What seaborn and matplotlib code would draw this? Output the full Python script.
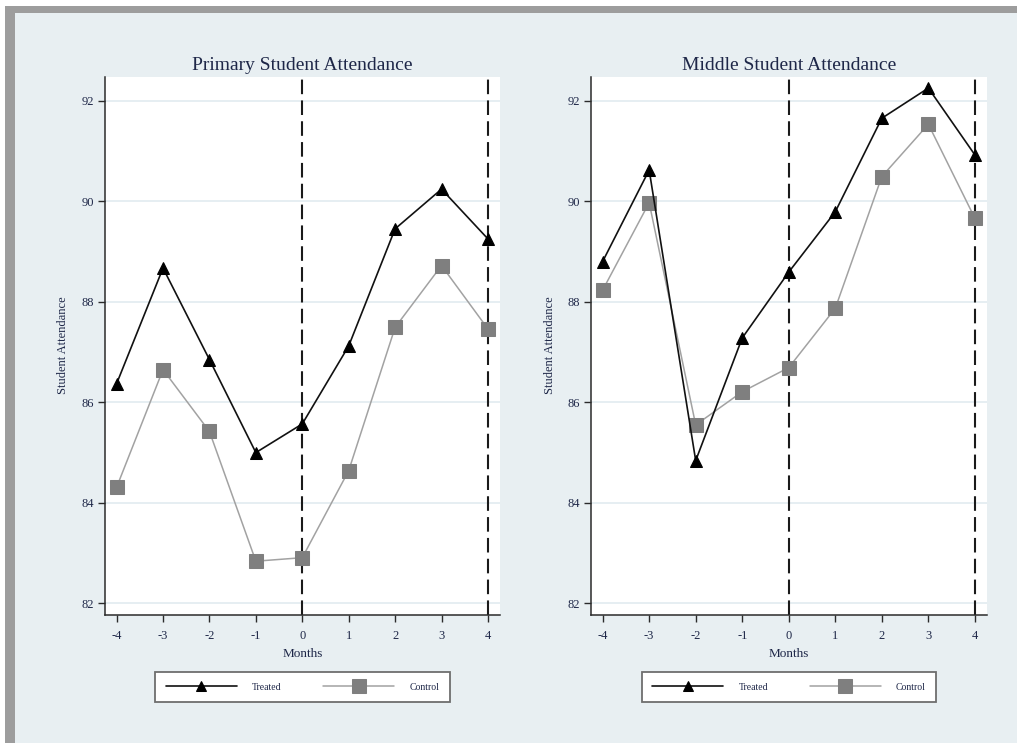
import numpy as np
import pandas as pd
import matplotlib
matplotlib.use("Agg")
import matplotlib.pyplot as plt
from matplotlib.patches import Rectangle
import seaborn as sns

# ---- data -------------------------------------------------------------
months = [-4, -3, -2, -1, 0, 1, 2, 3, 4]

primary_treated = [86.37, 88.67, 86.85, 85.00, 85.57, 87.12, 89.45, 90.24, 89.25]
primary_control = [84.31, 86.65, 85.42, 82.84, 82.91, 84.64, 87.49, 88.72, 87.46]

middle_treated = [88.80, 90.62, 84.84, 87.28, 88.59, 89.79, 91.65, 92.25, 90.92]
middle_control = [88.23, 89.97, 85.55, 86.21, 86.69, 87.87, 90.49, 91.53, 89.66]

panel_titles = ["Primary Student Attendance", "Middle Student Attendance"]
series_labels = ["Treated", "Control"]
y_ticks = [82, 84, 86, 88, 90, 92]
event_lines = [0, 4]

# ---- style ------------------------------------------------------------
sns.set_style("white")
plt.rcParams["font.family"] = ["Liberation Serif", "DejaVu Serif"]

BG = "#e8eff2"
TXT = "#1e2748"
AX = "#2b2b2b"

W, H = 1017, 743
fig = plt.figure(figsize=(W / 100, H / 100), dpi=100)
fig.patch.set_facecolor("white")


def px_rect(x0, y0, x1, y1):
    return (x0 / W, 1 - y1 / H, (x1 - x0) / W, (y1 - y0) / H)


# window frame around the graph
for (x0, y0, x1, y1), c in [((5, 6, W, H), "#9d9d9d"),
                            ((15, 13, W, H), BG)]:
    l, b, w, h = px_rect(x0, y0, x1, y1)
    fig.patches.append(Rectangle((l, b), w, h, transform=fig.transFigure,
                                 facecolor=c, edgecolor="none", zorder=-10))

panels = [
    (panel_titles[0], primary_treated, primary_control, (105, 77, 500, 615), 63),
    (panel_titles[1], middle_treated, middle_control, (591, 77, 987, 615), 550),
]

for title, treated, control, (x0, y0, x1, y1), ylab_x in panels:
    ax = fig.add_axes(px_rect(x0, y0, x1, y1))
    ax.set_facecolor("white")

    for yt in y_ticks:
        ax.axhline(yt, color="#e4edf1", lw=1.3, zorder=0)
    for xv in event_lines:
        ax.axvline(xv, color="#1a1a1a", lw=1.5, ls=(0, (7.0, 3.0)), zorder=1)

    df = pd.DataFrame({"Months": months, "Treated": treated, "Control": control})

    sns.lineplot(data=df, x="Months", y="Control", ax=ax, color="#a2a2a2",
                 linewidth=1.1, marker="s", markersize=10.5,
                 markerfacecolor="#7f7f7f", markeredgecolor="#7f7f7f",
                 label=series_labels[1], errorbar=None, zorder=3)
    sns.lineplot(data=df, x="Months", y="Treated", ax=ax, color="#111111",
                 linewidth=1.2, marker="^", markersize=8.5,
                 markerfacecolor="black", markeredgecolor="black",
                 label=series_labels[0], errorbar=None, zorder=4)

    ax.set_xlim(-4.25, 4.26)
    ax.set_ylim(81.77, 92.47)
    ax.set_xticks(months)
    ax.set_xticklabels([str(m) for m in months])
    ax.set_yticks(y_ticks)

    for s in ["top", "right"]:
        ax.spines[s].set_visible(False)
    for s in ["left", "bottom"]:
        ax.spines[s].set_color(AX)
        ax.spines[s].set_linewidth(1.1)
    ax.tick_params(axis="both", which="major", length=5, width=1.0,
                   color=AX, labelsize=9, labelcolor=TXT, pad=3,
                   left=True, bottom=True)
    ax.tick_params(axis="x", pad=6)

    ax.set_title(title, fontsize=14, color=TXT, pad=5)
    ax.set_xlabel("Months", fontsize=9.5, color=TXT, labelpad=4)
    ax.set_ylabel("")
    fig.text(ylab_x / W, 1 - 345 / H, "Student Attendance", rotation=90,
             ha="center", va="center", fontsize=9, color=TXT)

    handles, labels = ax.get_legend_handles_labels()
    order = [labels.index(series_labels[0]), labels.index(series_labels[1])]
    leg = ax.legend([handles[i] for i in order], [labels[i] for i in order],
                    loc="center", ncol=2,
                    bbox_to_anchor=(((x0 + x1) / 2) / W, 1 - 687 / H),
                    bbox_transform=fig.transFigure,
                    fontsize=7, handlelength=7.3, handletextpad=1.55,
                    columnspacing=4.3, borderpad=1.1, frameon=True,
                    fancybox=False, edgecolor="#6e6e6e", facecolor="white",
                    framealpha=1.0)
    leg.get_frame().set_linewidth(1.3)
    for t in leg.get_texts():
        t.set_color(TXT)
    leg.legend_handles[0].set_markersize(7.5)

fig.savefig("out.png", dpi=100, facecolor=fig.get_facecolor())
